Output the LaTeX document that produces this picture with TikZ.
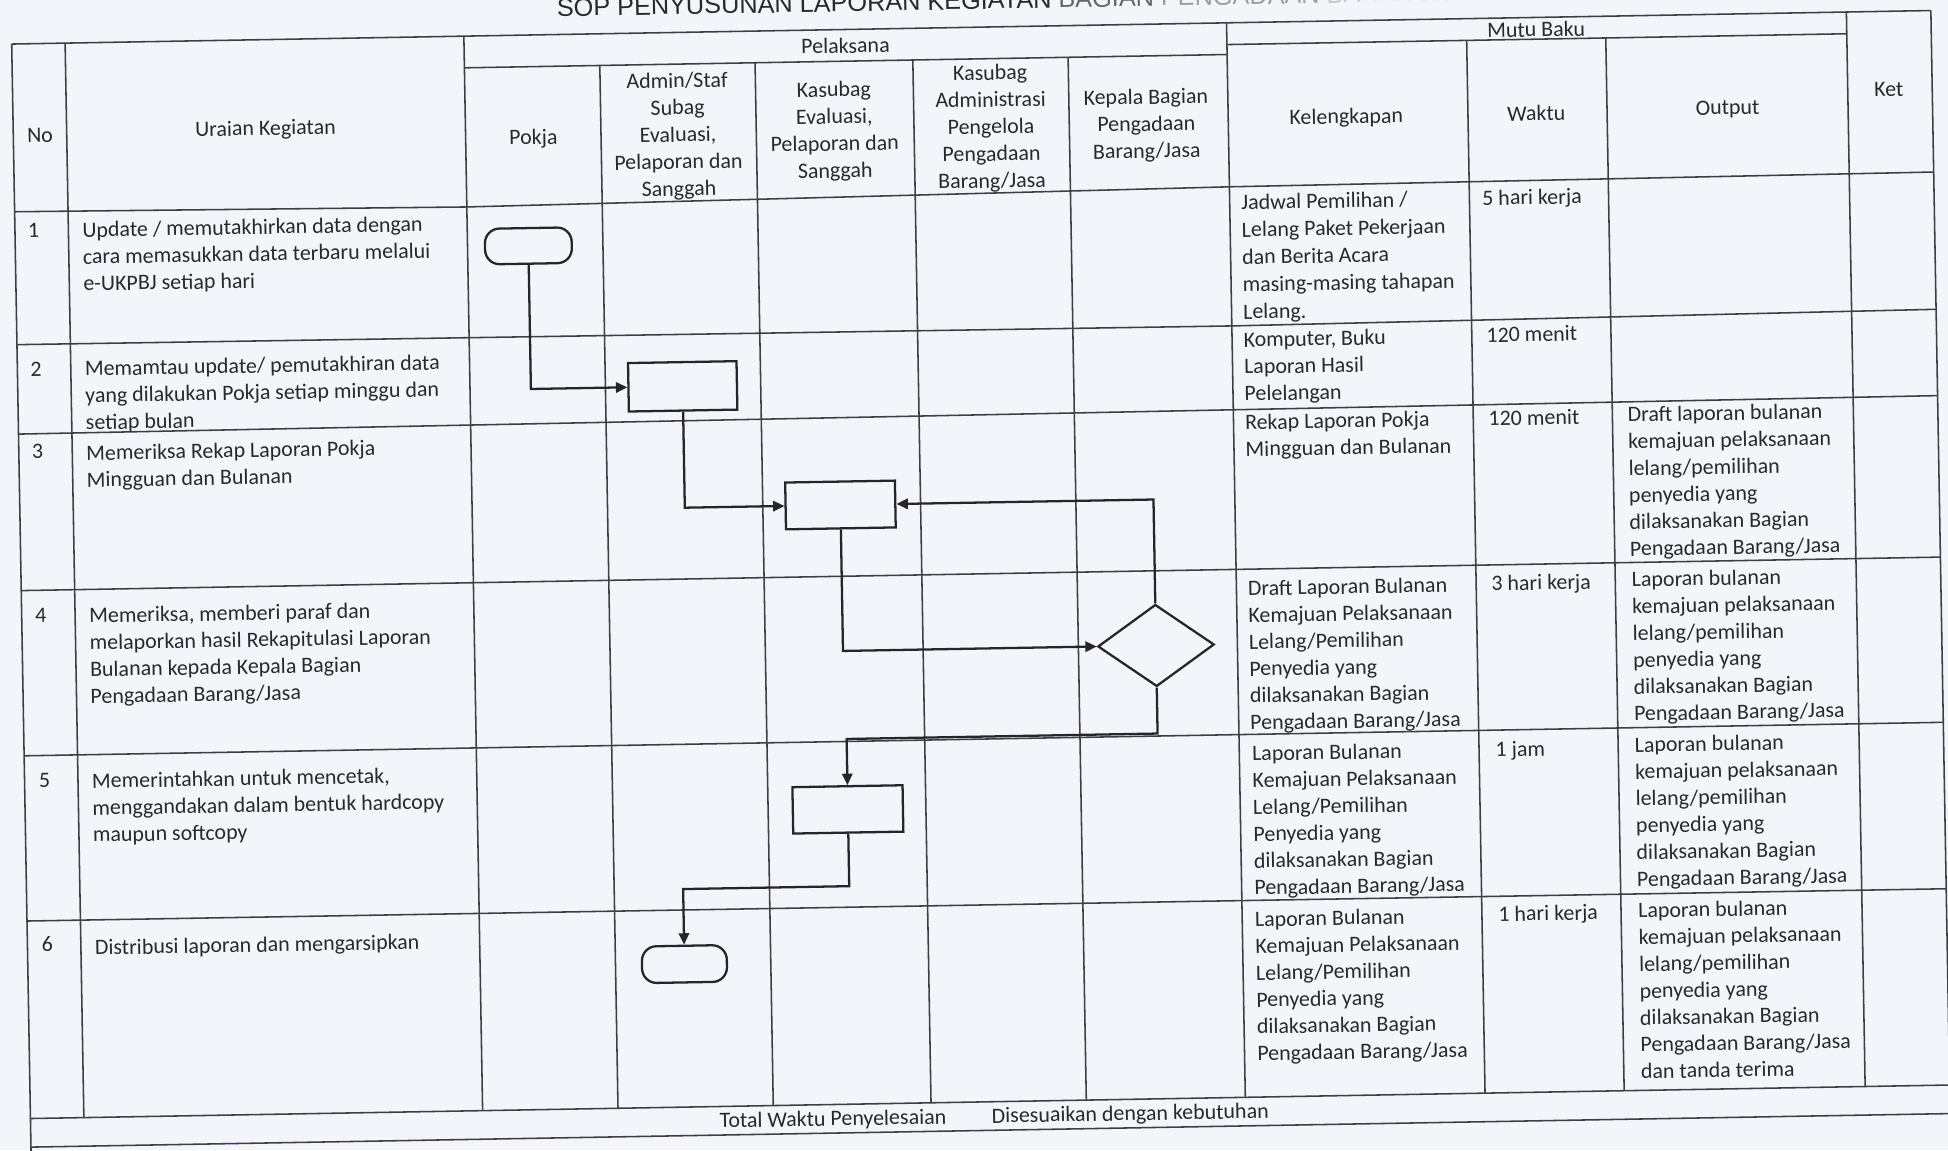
\documentclass[tikz,border=0pt]{standalone}
\usepackage{fontspec}
\setmainfont{Carlito}
\newfontfamily\titlefont{Liberation Sans}
\usetikzlibrary{arrows.meta,shapes.geometric,calc}
\definecolor{paper}{RGB}{243,245,251}
\definecolor{ink}{RGB}{40,40,46}
\definecolor{rule}{RGB}{62,62,70}
\begin{document}
\begin{tikzpicture}[x=0.6pt,y=-0.6pt,
  grid/.style={draw=rule,line width=0.75pt},
  cell/.style={anchor=north west,inner sep=0pt,align=left,text=ink,font=\fontsize{10.6}{12.96}\selectfont},
  head/.style={anchor=center,inner sep=0pt,align=center,text=ink,font=\fontsize{10.6}{13.05}\selectfont},
  num/.style={anchor=center,inner sep=0pt,text=ink,font=\fontsize{10.6}{13}\selectfont},
  flow/.style={draw=black!85,line width=1.1pt},
  termbox/.style={flow,rectangle,rounded corners=7pt,inner sep=0pt},
  procbox/.style={flow,rectangle,inner sep=0pt},
  decbox/.style={flow,diamond,inner sep=0pt},
  link/.style={draw=black!85,line width=1.1pt,-{Triangle[length=5.5pt,width=5pt]}}
]
\useasboundingbox (0,0) rectangle (1568,926);
\fill[paper] (0,0) rectangle (1568,926);
\begin{scope}
\clip (0,0) rectangle (1568,926);
\begin{scope}[rotate around={1:(784,463)},transform shape]
% title
\node[anchor=base west,inner sep=0pt,font=\titlefont\fontsize{12.2}{14}\selectfont] (title) at (456,7.5)
  {{\color{ink}SOP PENYUSUNAN LAPORAN KEGIATAN }{\color{black!60}BAGIAN }{\color{black!38}PENGADAAN }{\color{black!22}BA}{\color{black!7}RANG/JASA}};
% horizontal rules
\draw[grid] (17,22) -- (1562,22);
\draw[grid] (381,47.5) -- (995,47.5);
\draw[grid] (995,39.5) -- (1494,39.5);
\draw[grid] (17,157) -- (381,159.5) -- (995,154) -- (1562,152);
\draw[grid] (17,264) -- (995,266) -- (1562,262.5);
\draw[grid] (17,336) -- (995,333.5) -- (1562,332);
\draw[grid] (17,462) -- (1562,462);
\draw[grid] (17,595) -- (1562,595);
\draw[grid] (17,728) -- (1562,729);
\draw[grid] (17,887) -- (1600,887);
\draw[grid] (17,910) -- (1600,910);
% vertical rules
\draw[grid] (17,22) -- (17,960);
\draw[grid] (60,22) -- (60,887);
\draw[grid] (381,22) -- (381,887);
\draw[grid] (490,47.5) -- (490,887);
\draw[grid] (615,47.5) -- (615,887);
\draw[grid] (742,47.5) -- (742,887);
\draw[grid] (867,47.5) -- (867,887);
\draw[grid] (995,22) -- (995,887);
\draw[grid] (1188,39.5) -- (1188,887);
\draw[grid] (1300,39.5) -- (1300,887);
\draw[grid] (1494,22) -- (1494,887);
\draw[grid] (1562,22) -- (1562,887);
% header
\node[head] (hno) at (38.5,96) {No};
\node[head] (hur) at (220,94.5) {Uraian Kegiatan};
\node[head] (hpel) at (688,35) {Pelaksana};
\node[head] (hmutu) at (1244,31.5) {Mutu Baku};
\node[head] (hpokja) at (435.5,105.5) {Pokja};
\node[head] (hadmin) at (552,105.5) {Admin/Staf\\Subag\\Evaluasi,\\Pelaporan dan\\Sanggah};
\node[head] (hkeval) at (678,104) {Kasubag\\Evaluasi,\\Pelaporan dan\\Sanggah};
\node[head] (hkadm) at (804,103.5) {Kasubag\\Administrasi\\Pengelola\\Pengadaan\\Barang/Jasa};
\node[head] (hkep) at (929,103.4) {Kepala Bagian\\Pengadaan\\Barang/Jasa};
\node[head] (hkel) at (1090,100.2) {Kelengkapan};
\node[head] (hwak) at (1243,98.9) {Waktu};
\node[head] (hout) at (1397,98.6) {Output};
\node[head] (hket) at (1527,84.9) {Ket};
% numbers
\node[num] (n1) at (32,172.5) {1};
\node[num] (n2) at (32,283.8) {2};
\node[num] (n3) at (32,350.5) {3};
\node[num] (n4) at (32.4,482.5) {4};
\node[num] (n5) at (33,615.5) {5};
\node[num] (n6) at (33,746.9) {6};
% uraian
\node[cell] (u1) at (71,165.9) {Update / memutakhirkan data dengan\\cara memasukkan data terbaru melalui\\e-UKPBJ setiap hari};
\node[cell] (u2) at (71,277.5) {Memamtau update/ pemutakhiran data\\yang dilakukan Pokja setiap minggu dan\\setiap bulan};
\node[cell] (u3) at (71,345.5) {Memeriksa Rekap Laporan Pokja\\Mingguan dan Bulanan};
\node[cell] (u4) at (71,476.4) {Memeriksa, memberi paraf dan\\melaporkan hasil Rekapitulasi Laporan\\Bulanan kepada Kepala Bagian\\Pengadaan Barang/Jasa};
\node[cell] (u5) at (71,609.5) {Memerintahkan untuk mencetak,\\menggandakan dalam bentuk hardcopy\\maupun softcopy};
\node[cell] (u6) at (71,743.6) {Distribusi laporan dan mengarsipkan};
% kelengkapan
\node[cell,font=\fontsize{10.6}{13.2}\selectfont] (k1) at (1004,160) {Jadwal Pemilihan /\\Lelang Paket Pekerjaan\\dan Berita Acara\\masing-masing tahapan\\Lelang.};
\node[cell] (k2) at (1004,270.6) {Komputer, Buku\\Laporan Hasil\\Pelelangan};
\node[cell] (k3) at (1004,337) {Rekap Laporan Pokja\\Mingguan dan Bulanan};
\node[cell] (k4) at (1004,470.7) {Draft Laporan Bulanan\\Kemajuan Pelaksanaan\\Lelang/Pemilihan\\Penyedia yang\\dilaksanakan Bagian\\Pengadaan Barang/Jasa};
\node[cell] (k5) at (1005,603.7) {Laporan Bulanan\\Kemajuan Pelaksanaan\\Lelang/Pemilihan\\Penyedia yang\\dilaksanakan Bagian\\Pengadaan Barang/Jasa};
\node[cell] (k6) at (1005,737.1) {Laporan Bulanan\\Kemajuan Pelaksanaan\\Lelang/Pemilihan\\Penyedia yang\\dilaksanakan Bagian\\Pengadaan Barang/Jasa};
% waktu
\node[cell] (w1) at (1198,159.9) {5 hari kerja};
\node[cell] (w2) at (1199.5,270.3) {120 menit};
\node[cell] (w3) at (1200,337.6) {120 menit};
\node[cell] (w4) at (1200,470.2) {3 hari kerja};
\node[cell] (w5) at (1201,603.8) {1 jam};
\node[cell] (w6) at (1201,736.4) {1 hari kerja};
% output
\node[cell] (o3) at (1312,336.2) {Draft laporan bulanan\\kemajuan pelaksanaan\\lelang/pemilihan\\penyedia yang\\dilaksanakan Bagian\\Pengadaan Barang/Jasa};
\node[cell] (o4) at (1313,469) {Laporan bulanan\\kemajuan pelaksanaan\\lelang/pemilihan\\penyedia yang\\dilaksanakan Bagian\\Pengadaan Barang/Jasa};
\node[cell] (o5) at (1313,602.2) {Laporan bulanan\\kemajuan pelaksanaan\\lelang/pemilihan\\penyedia yang\\dilaksanakan Bagian\\Pengadaan Barang/Jasa};
\node[cell] (o6) at (1313.5,735.4) {Laporan bulanan\\kemajuan pelaksanaan\\lelang/pemilihan\\penyedia yang\\dilaksanakan Bagian\\Pengadaan Barang/Jasa\\dan tanda terima};
% total row
\node[anchor=west,inner sep=0pt,text=ink,font=\fontsize{10.6}{13}\selectfont] (tot) at (571.3,899.5) {Total Waktu Penyelesaian};
\node[anchor=west,inner sep=0pt,text=ink,font=\fontsize{10.6}{13}\selectfont] (dis) at (790.4,899.5) {Disesuaikan dengan kebutuhan};
% flow shapes
\node[termbox,minimum width=41.9pt,minimum height=17.2pt] (s1) at (430,191.7) {};
\node[procbox,minimum width=52.4pt,minimum height=23.4pt] (s2) at (552.2,306.9) {};
\node[procbox,minimum width=53pt,minimum height=22.6pt] (s3) at (677.5,404.6) {};
\node[decbox,minimum width=56.2pt,minimum height=39.6pt] (s4) at (929.5,522.1) {};
\node[procbox,minimum width=53.2pt,minimum height=22.4pt] (s5) at (679.2,649.7) {};
\node[termbox,minimum width=41pt,minimum height=17.7pt] (s6) at (545.5,771.9) {};
\coordinate (j1) at (929.5,593);
\coordinate (j2) at (679.2,711.5);
% connectors
\draw[link] (s1.south) |- (s2.west);
\draw[link] (s2.south) |- (s3.west);
\draw[link] (s3.south) |- (s4.west);
\draw[link] (s4.north) |- (s3.east);
\draw[link] (s4.south) -- (j1) -| (s5.north);
\draw[link] (s5.south) -- (j2) -| (s6.north);
\end{scope}
\end{scope}
\end{tikzpicture}
\end{document}
